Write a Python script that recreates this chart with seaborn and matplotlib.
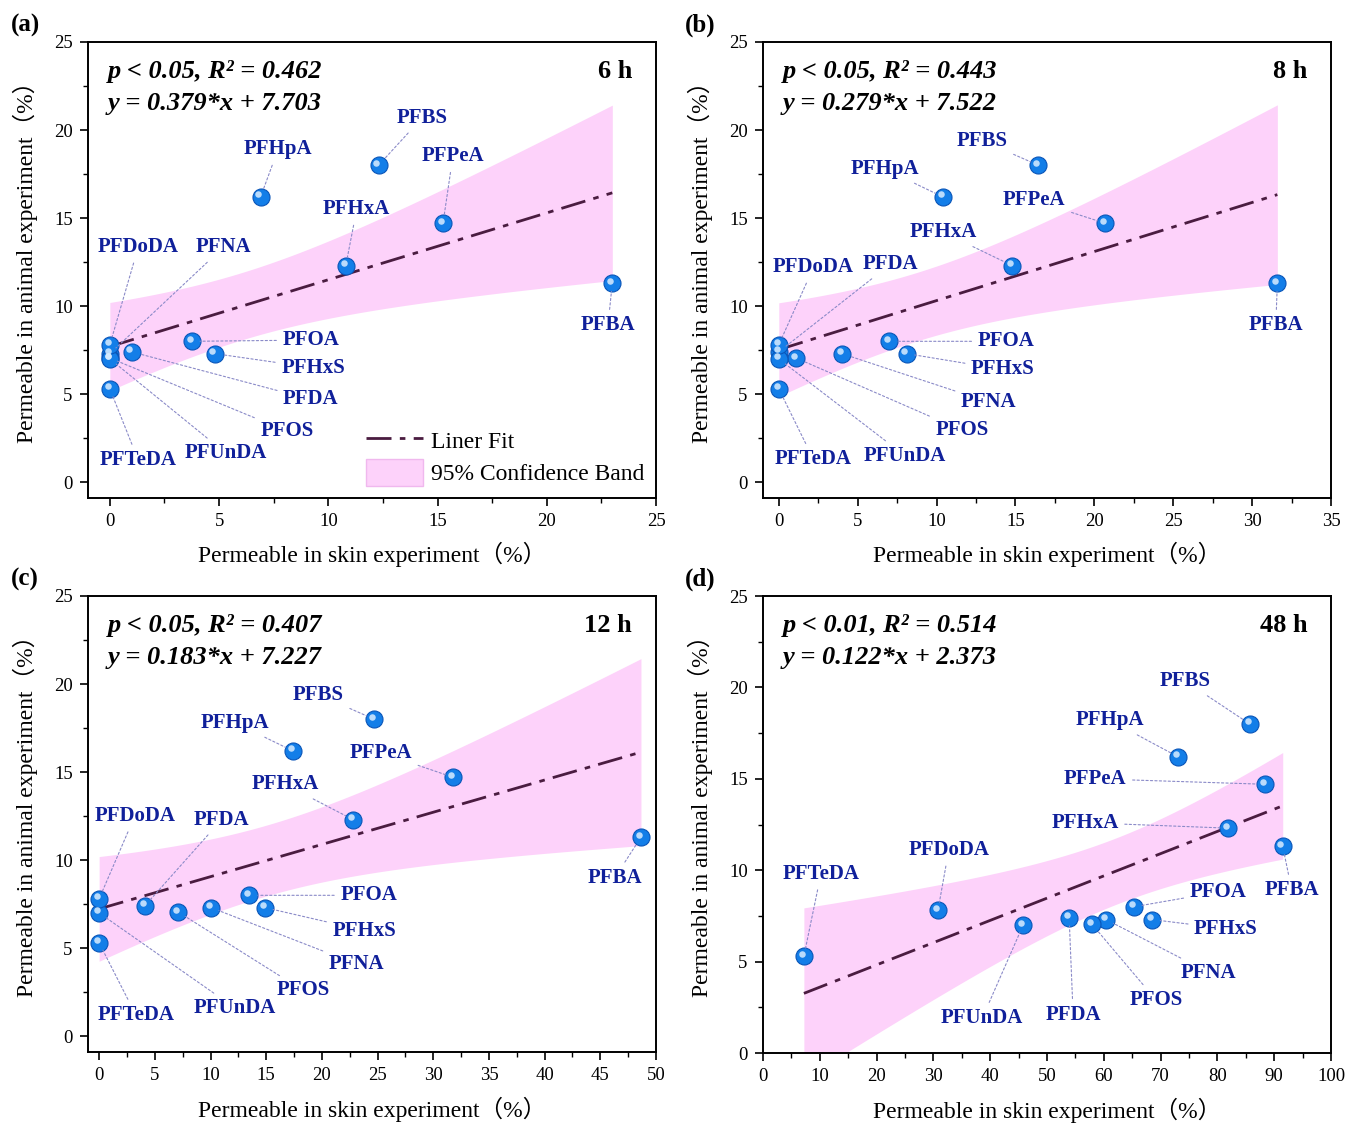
import numpy as np
import pandas as pd
import matplotlib
matplotlib.use("Agg")
import matplotlib.pyplot as plt
import seaborn as sns
from matplotlib.lines import Line2D
from matplotlib.patches import Patch
from matplotlib.transforms import ScaledTranslation
from matplotlib.ticker import MultipleLocator

sns.set_theme(style="white")
plt.rcParams['font.family'] = ['Liberation Serif', 'Noto Sans CJK SC']
plt.rcParams.update({"text.color": "black", "axes.labelcolor": "black",
                     "xtick.color": "black", "ytick.color": "black"})

# ---------------- data ----------------
compounds = ["PFBS", "PFHpA", "PFPeA", "PFHxA", "PFBA", "PFOA", "PFHxS",
             "PFNA", "PFDA", "PFOS", "PFUnDA", "PFDoDA", "PFTeDA"]
animal = [18.0, 16.2, 14.7, 12.3, 11.3, 8.0, 7.3, 7.3, 7.4, 7.05, 7.0, 7.8, 5.3]

skin_6h = [12.3, 6.9, 15.25, 10.8, 23.0, 3.75, 4.8, 0.0, 1.0, 0.0, 0.0, 0.0, 0.0]
skin_8h = [16.45, 10.4, 20.7, 14.8, 31.6, 7.0, 8.1, 4.0, 0.0, 1.1, 0.0, 0.0, 0.0]
skin_12h = [24.7, 17.4, 31.8, 22.8, 48.65, 13.5, 14.9, 10.05, 4.1, 7.1, 0.0, 0.0, 0.0]
skin_48h = [85.7, 73.1, 88.4, 81.9, 91.5, 65.3, 68.5, 60.4, 53.9, 57.9, 45.8, 30.8, 7.2]

stats_line1 = ["p < 0.05, R² = 0.462", "p < 0.05, R² = 0.443",
               "p < 0.05, R² = 0.407", "p < 0.01, R² = 0.514"]
stats_line2 = ["y = 0.379*x + 7.703", "y = 0.279*x + 7.522",
               "y = 0.183*x + 7.227", "y = 0.122*x + 2.373"]
times = ["6 h", "8 h", "12 h", "48 h"]
panel_tags = ["(a)", "(b)", "(c)", "(d)"]

# ---------------- layout / style ----------------
label_pos = [
    {"PFBS": (14.3, 20.7), "PFHpA": (7.7, 18.9), "PFPeA": (15.7, 18.5), "PFHxA": (11.3, 15.5),
     "PFDoDA": (1.3, 13.35), "PFNA": (5.2, 13.35), "PFOA": (9.2, 8.07), "PFHxS": (9.3, 6.5),
     "PFDA": (9.2, 4.7), "PFOS": (8.1, 2.9), "PFUnDA": (5.3, 1.65), "PFTeDA": (1.3, 1.25),
     "PFBA": (22.8, 8.9)},
    {"PFBS": (12.9, 19.4), "PFHpA": (6.7, 17.8), "PFPeA": (16.2, 16.0), "PFHxA": (10.4, 14.2),
     "PFDoDA": (2.2, 12.2), "PFDA": (7.1, 12.4), "PFOA": (14.4, 8.0), "PFHxS": (14.2, 6.4),
     "PFNA": (13.3, 4.55), "PFOS": (11.6, 2.95), "PFUnDA": (8.0, 1.5), "PFTeDA": (2.2, 1.3),
     "PFBA": (31.5, 8.9)},
    {"PFBS": (19.7, 19.4), "PFHpA": (12.2, 17.8), "PFPeA": (25.3, 16.1), "PFHxA": (16.7, 14.3),
     "PFDoDA": (3.2, 12.5), "PFDA": (11.0, 12.3), "PFOA": (24.2, 8.0), "PFHxS": (23.8, 6.0),
     "PFNA": (23.1, 4.1), "PFOS": (18.3, 2.6), "PFUnDA": (12.2, 1.6), "PFTeDA": (3.3, 1.2),
     "PFBA": (46.3, 9.0)},
    {"PFBS": (74.3, 20.35), "PFHpA": (61.1, 18.2), "PFPeA": (58.5, 15.0), "PFHxA": (56.7, 12.6),
     "PFDoDA": (32.7, 11.1), "PFTeDA": (10.2, 9.8), "PFOA": (80.1, 8.8), "PFBA": (93.1, 8.9),
     "PFHxS": (81.5, 6.8), "PFNA": (78.5, 4.4), "PFOS": (69.2, 2.9), "PFDA": (54.6, 2.1),
     "PFUnDA": (38.6, 1.9)},
]
xlims = [(-1, 25), (-1, 35), (-1, 50), (0, 100)]
ylims = [(-0.9, 25), (-0.9, 25), (-0.9, 25), (0, 25)]
xmajor = [5, 5, 5, 10]
W, H = 1346, 1125
boxes = [(88, 42, 656, 498), (763, 42, 1331, 498), (88, 596, 656, 1052), (763, 596, 1331, 1053)]
xlabelpads = [8, 8, 9, 9]

label_color = "#10209a"
line_color = "#4a1c40"
band_color = "#fdd2fa"
dashdot = (0, (9, 3, 2, 3))

fig = plt.figure(figsize=(W / 100, H / 100), dpi=100)
skins = [skin_6h, skin_8h, skin_12h, skin_48h]

for i in range(4):
    l, t, r, b = boxes[i]
    ax = fig.add_axes([l / W, 1 - b / H, (r - l) / W, (b - t) / H])
    x = np.array(skins[i], dtype=float)
    y = np.array(animal, dtype=float)
    df = pd.DataFrame({"skin": x, "animal": y, "compound": compounds})

    # linear fit and 95% confidence band
    n = len(x)
    slope, intercept = np.polyfit(x, y, 1)
    resid = y - (slope * x + intercept)
    s = np.sqrt(np.sum(resid ** 2) / (n - 2))
    sxx = np.sum((x - x.mean()) ** 2)
    grid = np.linspace(x.min(), x.max(), 200)
    fit = slope * grid + intercept
    tval = 2.201
    half = tval * s * np.sqrt(1 / n + (grid - x.mean()) ** 2 / sxx)
    ax.fill_between(grid, fit - half, fit + half, color=band_color, lw=0, zorder=1)
    fitdf = pd.DataFrame({"skin": grid, "fit": fit})
    sns.lineplot(data=fitdf, x="skin", y="fit", ax=ax, color=line_color, lw=2.0,
                 linestyle=dashdot, zorder=3)

    # spheres
    sns.scatterplot(data=df, x="skin", y="animal", ax=ax, s=150, color="#137ee8",
                    edgecolor="#0a55b8", linewidth=0.8, zorder=5)
    hl = ax.transData + ScaledTranslation(-1.6 / 72, 1.8 / 72, fig.dpi_scale_trans)
    ax.scatter(x, y, s=22, color="#d8ecff", alpha=0.85, lw=0, transform=hl, zorder=6)

    # labels
    for name, xi, yi in zip(compounds, x, y):
        tx, ty = label_pos[i][name]
        ax.annotate(name, xy=(xi, yi), xytext=(tx, ty), ha="center", va="center",
                    fontsize=15, fontweight="bold", color=label_color, zorder=7,
                    arrowprops=dict(arrowstyle="-", color="#8a8ac8", lw=0.8,
                                    linestyle=(0, (2, 2)), shrinkA=2, shrinkB=6))

    ax.set_xlim(*xlims[i])
    ax.set_ylim(*ylims[i])
    ax.xaxis.set_major_locator(MultipleLocator(xmajor[i]))
    ax.xaxis.set_minor_locator(MultipleLocator(xmajor[i] / 2))
    ax.yaxis.set_major_locator(MultipleLocator(5))
    ax.yaxis.set_minor_locator(MultipleLocator(2.5))
    ax.tick_params(axis="both", which="major", direction="out", length=6, width=1.2,
                   labelsize=13.5, bottom=True, left=True, pad=5, colors="black")
    ax.tick_params(axis="both", which="minor", direction="out", length=3.5, width=1.0,
                   bottom=True, left=True, colors="black")
    for sp in ax.spines.values():
        sp.set_linewidth(1.4)
        sp.set_color("black")
    ax.grid(False)
    ax.set_xlabel("Permeable in skin experiment（%）", fontsize=17, labelpad=xlabelpads[i])
    ax.set_ylabel("Permeable in animal experiment（%）", fontsize=17)
    ax.yaxis.set_label_coords(-0.088, 0.53)

    ax.text(0.035, 0.935, stats_line1[i], transform=ax.transAxes, fontsize=19,
            fontweight="bold", fontstyle="italic", va="center", ha="left", color="black")
    ax.text(0.035, 0.865, stats_line2[i], transform=ax.transAxes, fontsize=19,
            fontweight="bold", fontstyle="italic", va="center", ha="left", color="black")
    ax.text(0.958, 0.935, times[i], transform=ax.transAxes, fontsize=19,
            fontweight="bold", va="center", ha="right", color="black")

    fig.text((l - 63) / W, 1 - (t - 17) / H, panel_tags[i], fontsize=18,
             fontweight="bold", va="center", ha="center", color="black")

    if i == 0:
        handles = [Line2D([0], [0], color=line_color, lw=2.0, linestyle=dashdot),
                   Patch(facecolor=band_color, edgecolor="#f0b8ee", lw=1.0)]
        ax.legend(handles, ["Liner Fit", "95% Confidence Band"], loc="lower right",
                  frameon=False, fontsize=17, handlelength=2.4, handleheight=1.4,
                  handletextpad=0.35, labelspacing=0.2, borderaxespad=0.1,
                  bbox_to_anchor=(1.0, 0.0), labelcolor="black")

fig.savefig("out.png", dpi=100)
